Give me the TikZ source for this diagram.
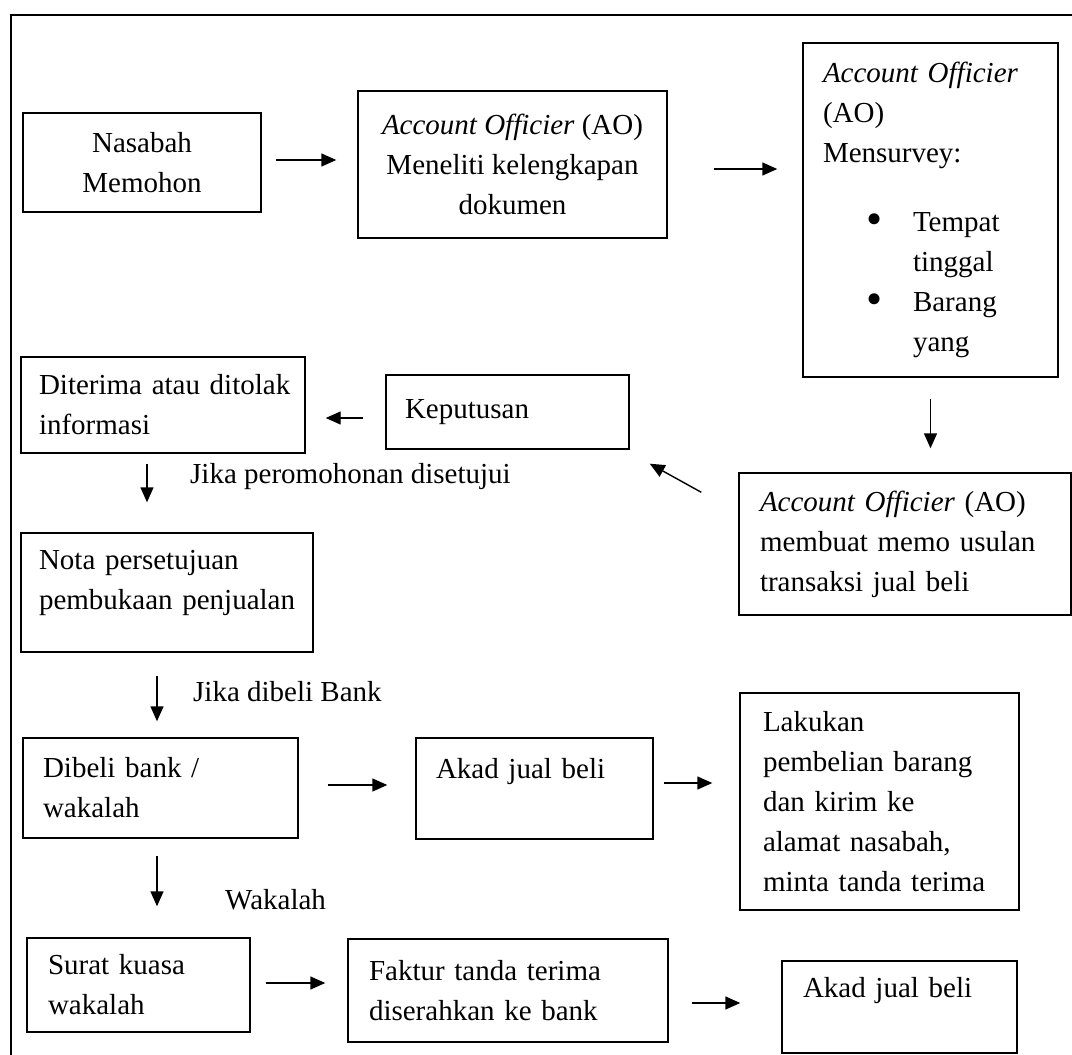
\documentclass[tikz,border=0pt]{standalone}
\usepackage{fontspec}
\setmainfont{Liberation Serif}
\usetikzlibrary{arrows.meta,calc,positioning}
\hyphenpenalty=10000
\exhyphenpenalty=10000

\newcommand{\blt}{\makebox[47pt][l]{\raisebox{-3pt}{\fontsize{46pt}{40pt}\selectfont\textbullet}}}

\begin{document}
\begin{tikzpicture}[x=1pt,y=-1pt,
  box/.style={draw,black,line width=1.4pt,inner sep=0pt,align=left,font=\fontsize{29pt}{40pt}\selectfont},
  arr/.style={black,line width=1.4pt,-{Triangle[length=15pt,width=13pt]}},
  lbl/.style={anchor=west,inner sep=0pt,font=\fontsize{29pt}{40pt}\selectfont}]
\useasboundingbox (0,0) rectangle (1072,1055);
% frame
\draw[line width=1.2pt] (1072,15) -- (11,15) -- (11,1055);
% first row
\node[box,align=center,minimum width=238pt,minimum height=99pt] (nasabah) at (142,162.5) {Nasabah\\Memohon};
\node[box,align=center,minimum width=309pt,minimum height=147pt] (teliti) at (512.5,164.5) {\textit{Account Officier} (AO)\\Meneliti kelengkapan\\dokumen};
\node[box,text width=215pt,minimum width=255pt,minimum height=334pt] (survey) at (930.5,210) {\textit{Account~Officier}\\(AO)\\Mensurvey:\\[29pt]
\hspace*{43pt}\blt Tempat\\
\hspace*{90pt}tinggal\\
\hspace*{43pt}\blt Barang\\
\hspace*{90pt}yang};
% second row
\node[box,text width=248pt,minimum width=284pt,minimum height=96pt] (diterima) at (163,405) {Diterima~atau~ditolak\\informasi};
\node[box,text width=205pt,minimum width=243pt,minimum height=74pt] (keputusan) at (507.5,412) {Keputusan};
\node[box,text width=290pt,minimum width=332pt,minimum height=142pt] (memo) at (905,544) {\textit{Account Officier} (AO)\\membuat~memo~usulan\\transaksi jual beli};
\node[box,text width=256pt,minimum width=292pt,minimum height=119pt] (nota) at (167,592.5) {Nota persetujuan\\pembukaan~penjualan\\[-14pt]~};
% third row
\node[box,text width=235pt,minimum width=275pt,minimum height=100pt] (dibeli) at (160.5,788) {Dibeli bank /\\wakalah};
\node[box,text width=197pt,minimum width=237pt,minimum height=101pt] (akad1) at (534.5,788.5) {Akad jual beli\\~};
\node[box,text width=233pt,minimum width=279pt,minimum height=217pt] (lakukan) at (879.5,801.5) {Lakukan\\pembelian~barang\\dan kirim ke\\alamat nasabah,\\minta~tanda~terima};
% last row
\node[box,text width=181pt,minimum width=223pt,minimum height=94pt] (surat) at (138.5,985) {Surat kuasa\\wakalah};
\node[box,text width=278pt,minimum width=320pt,minimum height=103pt] (faktur) at (508,990.5) {Faktur tanda terima\\diserahkan ke bank};
\node[box,text width=193pt,minimum width=235pt,minimum height=92pt] (akad2) at (899.5,1007) {Akad jual beli\\~};
% labels
\node[lbl] (setuju) at (190,477) {Jika peromohonan disetujui};
\node[lbl] (bank) at (193,692) {Jika dibeli Bank};
\node[lbl] (wakalah) at (225,900) {Wakalah};
% arrows
\draw[arr,shorten <=14pt,shorten >=21pt] ([yshift=2.5pt]nasabah.east) -- ([yshift=2.5pt]nasabah.east -| teliti.west);
\draw[arr,shorten <=46pt,shorten >=25pt] ([yshift=-4.5pt]teliti.east) -- ([yshift=-4.5pt]teliti.east -| survey.west);
\draw[arr,shorten <=21pt,shorten >=24pt] (survey.south) -- (survey.south |- memo.north);
\draw[arr] ([shift={(-37,20)}]memo.north west) -- ([shift={(20,14)}]keputusan.south east);
\draw[arr,shorten <=22pt,shorten >=20pt] ([yshift=-6pt]keputusan.west) -- ([yshift=-6pt]keputusan.west -| diterima.east);
\draw[arr,shorten <=10pt,shorten >=30pt] ([xshift=-16pt]diterima.south) -- ([xshift=-16pt]diterima.south |- nota.north);
\draw[arr,shorten <=23pt,shorten >=16pt] ([xshift=-10pt]nota.south) -- ([xshift=-10pt]nota.south |- dibeli.north);
\draw[arr,shorten <=29pt,shorten >=28pt] ([yshift=3pt]dibeli.east) -- ([yshift=3pt]dibeli.east -| akad1.west);
\draw[arr,shorten <=10pt,shorten >=27pt] ([yshift=5.5pt]akad1.east) -- ([yshift=5.5pt]akad1.east -| lakukan.west);
\draw[arr,shorten <=17pt,shorten >=31pt] ([xshift=-3.5pt]dibeli.south) -- ([xshift=-3.5pt]dibeli.south |- surat.north);
\draw[arr,shorten <=15pt,shorten >=22pt] ([yshift=2pt]surat.east) -- ([yshift=2pt]surat.east -| faktur.west);
\draw[arr,shorten <=23pt,shorten >=41pt] ([yshift=-12.5pt]faktur.east) -- ([yshift=-12.5pt]faktur.east -| akad2.west);
\end{tikzpicture}
\end{document}
